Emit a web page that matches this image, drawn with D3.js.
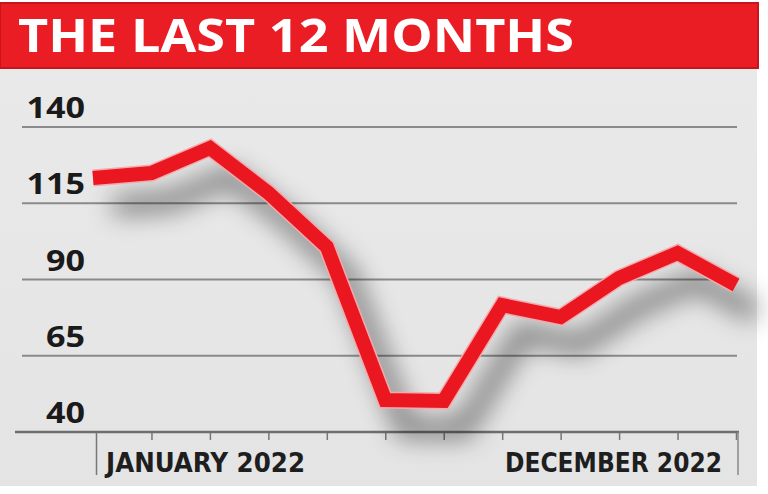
<!DOCTYPE html>
<html>
<head>
<meta charset="utf-8">
<script src="https://cdn.jsdelivr.net/npm/d3@7"></script>
<style>
  html, body { margin: 0; padding: 0; background: #fff; }
  svg { display: block; }
</style>
</head>
<body>
<script>
// data
var months = ["Jan", "Feb", "Mar", "Apr", "May", "Jun", "Jul", "Aug", "Sep", "Oct", "Nov", "Dec"];
var values = [123.3, 124.9, 133.1, 118.4, 100.7, 50.5, 50.2, 81.6, 77.7, 90.5, 98.7, 88.2];
var yTicks = [40, 65, 90, 115, 140];
var firstLabel = "JANUARY 2022";
var lastLabel = "DECEMBER 2022";
var title = "THE LAST 12 MONTHS";

var w = 768, h = 494;

var svg = d3.select("body").append("svg")
    .attr("width", w)
    .attr("height", h);

var defs = svg.append("defs");
var shadow = defs.append("filter").attr("id", "shadow")
    .attr("filterUnits", "userSpaceOnUse")
    .attr("x", 0).attr("y", 0).attr("width", w).attr("height", h);
shadow.append("feGaussianBlur").attr("in", "SourceAlpha").attr("stdDeviation", 13);
shadow.append("feOffset").attr("dx", 20).attr("dy", 28).attr("result", "blur");
shadow.append("feComponentTransfer").append("feFuncA").attr("type", "linear").attr("slope", 0.5);

var bg = defs.append("linearGradient").attr("id", "panel").attr("x1", 0).attr("y1", 0).attr("x2", 0).attr("y2", 1);
bg.append("stop").attr("offset", "0%").attr("stop-color", "#e9e9e9");
bg.append("stop").attr("offset", "100%").attr("stop-color", "#e4e4e4");

// grey panel
svg.append("rect")
    .attr("x", 0).attr("y", 66)
    .attr("width", 757).attr("height", 420)
    .attr("fill", "url(#panel)");

// red title banner
svg.append("rect")
    .attr("x", 0).attr("y", 3)
    .attr("width", 758).attr("height", 65)
    .attr("fill", "#ea1c24")
    .attr("stroke", "#c8141b")
    .attr("stroke-width", 2);

svg.append("text")
    .attr("x", 18).attr("y", 52)
    .attr("font-family", "'Open Sans', 'DejaVu Sans', sans-serif")
    .attr("font-weight", "bold")
    .attr("font-size", "46px")
    .attr("fill", "#fff")
    .attr("textLength", 556)
    .attr("lengthAdjust", "spacingAndGlyphs")
    .text(title);

// scales
var x = d3.scalePoint()
    .domain(months)
    .range([93, 736]);

var y = d3.scaleLinear()
    .domain([40, 140])
    .range([432, 127]);

// gridlines
svg.append("g")
    .selectAll("line")
    .data(yTicks.filter(function(d) { return d > 40; }))
    .enter()
    .append("line")
    .attr("x1", 22).attr("x2", 737)
    .attr("y1", function(d) { return y(d); })
    .attr("y2", function(d) { return y(d); })
    .attr("stroke", "#8a8a8a")
    .attr("stroke-width", 2);

// y labels
svg.append("g")
    .selectAll("text")
    .data(yTicks)
    .enter()
    .append("text")
    .attr("x", 85)
    .attr("y", function(d) { return y(d) - 9; })
    .attr("text-anchor", "end")
    .attr("font-family", "'Open Sans', 'DejaVu Sans', sans-serif")
    .attr("font-weight", "bold")
    .attr("font-size", "29px")
    .attr("fill", "#1a1a1a")
    .attr("textLength", function(d) { return String(d).length * 19.5; })
    .attr("lengthAdjust", "spacingAndGlyphs")
    .text(function(d) { return d; });

// x axis
var xAxis = d3.axisBottom(x)
    .tickSize(8)
    .tickFormat("");

var gx = svg.append("g")
    .attr("transform", "translate(0," + y(40) + ")")
    .call(xAxis);
gx.select(".domain").remove();
gx.selectAll(".tick line")
    .attr("stroke", "#777")
    .attr("stroke-width", 1.5)
    .attr("transform", function(d, i) { return i === 0 ? "translate(3,0)" : null; })
    .attr("y2", function(d, i) { return (i === 0) ? 43 : 8; });

svg.append("line")
    .attr("x1", 15).attr("x2", 739)
    .attr("y1", y(40)).attr("y2", y(40))
    .attr("stroke", "#6e6e6e")
    .attr("stroke-width", 2.5);

// right end frame line
svg.append("line")
    .attr("x1", 738).attr("x2", 738)
    .attr("y1", y(40)).attr("y2", y(40) + 43)
    .attr("stroke", "#888")
    .attr("stroke-width", 1.5);

svg.append("text")
    .attr("x", 106).attr("y", 472)
    .attr("font-family", "'Liberation Sans Narrow', 'DejaVu Sans Condensed', 'Roboto', sans-serif")
    .attr("font-weight", "bold")
    .attr("font-size", "27px")
    .attr("fill", "#1e1e1e")
    .attr("textLength", 199)
    .attr("lengthAdjust", "spacingAndGlyphs")
    .text(firstLabel);

svg.append("text")
    .attr("x", 505).attr("y", 472)
    .attr("font-family", "'Liberation Sans Narrow', 'DejaVu Sans Condensed', 'Roboto', sans-serif")
    .attr("font-weight", "bold")
    .attr("font-size", "27px")
    .attr("fill", "#1e1e1e")
    .attr("textLength", 217)
    .attr("lengthAdjust", "spacingAndGlyphs")
    .text(lastLabel);

// the line
var line = d3.line()
    .x(function(d, i) { return x(months[i]); })
    .y(function(d) { return y(d); });

svg.append("path")
    .datum(values)
    .attr("d", line)
    .attr("fill", "none")
    .attr("stroke", "#000")
    .attr("stroke-width", 18)
    .attr("stroke-linejoin", "miter")
    .attr("filter", "url(#shadow)");

svg.append("path")
    .datum(values)
    .attr("d", line)
    .attr("fill", "none")
    .attr("stroke", "#f4a9ac")
    .attr("stroke-width", 17)
    .attr("stroke-linejoin", "miter");

svg.append("path")
    .datum(values)
    .attr("d", line)
    .attr("fill", "none")
    .attr("stroke", "#ea1620")
    .attr("stroke-width", 14)
    .attr("stroke-linejoin", "miter");
</script>
</body>
</html>
